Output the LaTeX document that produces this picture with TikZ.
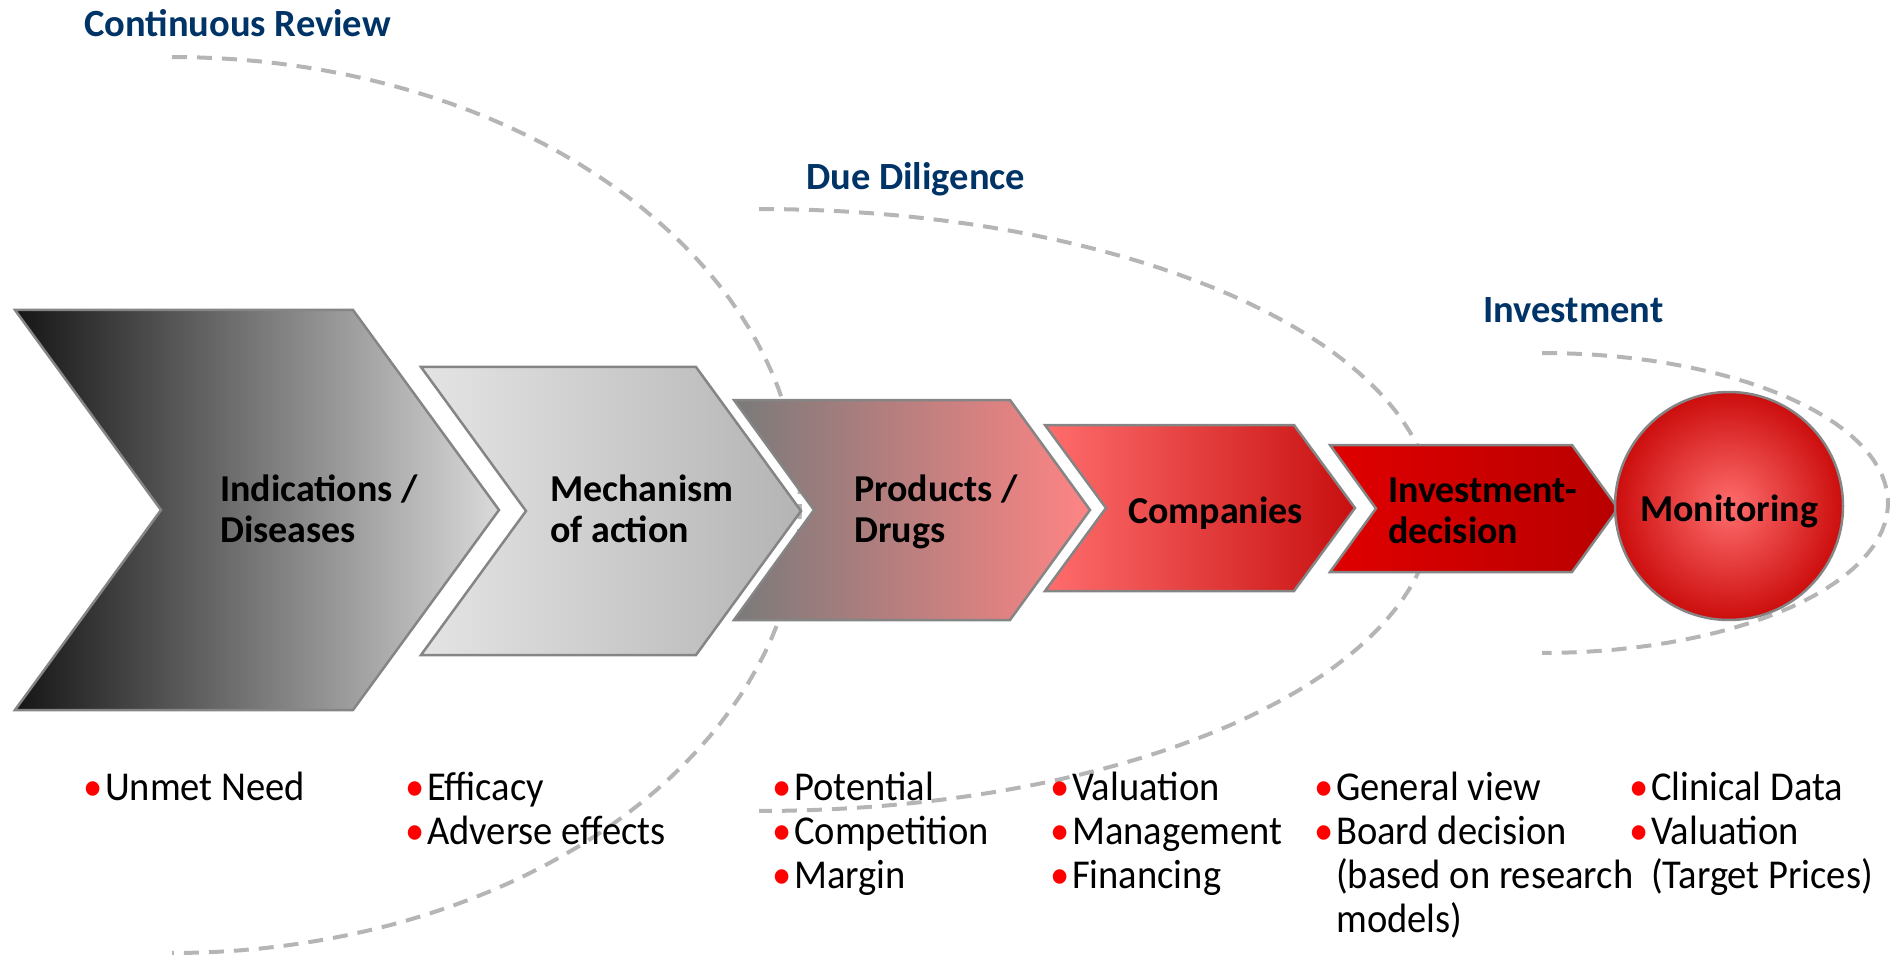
\documentclass[tikz,border=0pt]{standalone}
\usepackage{fontspec}
\setmainfont{Carlito}
\newfontfamily\itemfont{Carlito}[FakeStretch=0.94]

\definecolor{navy}{RGB}{0,51,102}
\definecolor{chevgray}{HTML}{858585}
\definecolor{ringgray}{HTML}{B5B5B5}
\definecolor{dotred}{HTML}{FF0000}
\definecolor{indleft}{HTML}{151515}
\definecolor{indright}{HTML}{DADADA}
\definecolor{mechleft}{HTML}{E4E4E4}
\definecolor{mechright}{HTML}{B4B4B4}
\definecolor{prodleft}{HTML}{7A7A7A}
\definecolor{prodright}{HTML}{FF8484}
\definecolor{compleft}{HTML}{FF6D6D}
\definecolor{compright}{HTML}{C80F0F}
\definecolor{invleft}{HTML}{E00000}
\definecolor{invright}{HTML}{B80000}
\definecolor{monin}{HTML}{FF6E6E}
\definecolor{monout}{HTML}{CC0D0D}

\newcommand\dotitem{\llap{\textcolor{dotred}{\textbullet}\hspace{3pt}}}

\begin{document}
\begin{tikzpicture}[x=1pt, y=-1pt,
    chev/.style={draw=chevgray, line width=2.5pt, line join=miter},
    dashring/.style={draw=ringgray, line width=4pt, dash pattern=on 15pt off 10pt},
    phase/.style={font=\fontsize{38.5}{44}\selectfont\bfseries, text=navy, anchor=base west, inner sep=0pt},
    lbl/.style={font=\fontsize{38}{41}\selectfont\bfseries, align=left, anchor=base west, inner sep=0pt},
    pts/.style={font=\itemfont\fontsize{41}{44}\selectfont, align=left, anchor=base west, inner sep=0pt}]
      \useasboundingbox (0,0) rectangle (1903,957);

      \draw[dashring] plot[domain=-90:90, samples=90] ({172+628*cos(\x)}, {505+448*sin(\x)});
      \draw[dashring] plot[domain=-90:90, samples=90] ({759+674*cos(\x)}, {510+301*sin(\x)});
      \draw[dashring] plot[domain=-90:90, samples=60] ({1542+346*cos(\x)}, {503+150*sin(\x)});

      \path[chev, left color=indleft, right color=indright]
        (15,310) -- (353,310) -- (499,510) -- (353,710) -- (15,710) -- (161,510) -- cycle;
      \path[chev, left color=mechleft, right color=mechright]
        (421,367) -- (696,367) -- (801,511) -- (696,655) -- (421,655) -- (526,511) -- cycle;
      \path[chev, left color=prodleft, right color=prodright]
        (734,400) -- (1010,400) -- (1090,510) -- (1010,620) -- (734,620) -- (814,510) -- cycle;
      \path[chev, left color=compleft, right color=compright]
        (1045,425) -- (1294,425) -- (1355,508) -- (1294,591) -- (1045,591) -- (1106,508) -- cycle;
      \path[chev, left color=invleft, right color=invright]
        (1330,445) -- (1572,445) -- (1618,508.5) -- (1572,572) -- (1330,572) -- (1376,508.5) -- cycle;

      \node[circle, chev, inner color=monin, outer color=monout, minimum size=228pt,
            font=\fontsize{38}{41}\selectfont\bfseries, text height=30pt, text depth=0pt] (monit) at (1729,506) {Monitoring};

      % multi-line nodes sit on the baseline of their last line
      \node[lbl] (indic) at (220,542) {Indications /\\Diseases};
      \node[lbl] (mech) at (550,542) {Mechanism\\of action};
      \node[lbl] (prod) at (854,542) {Products /\\Drugs};
      \node[lbl] (comp) at (1128,523) {Companies};
      \node[lbl] (invdec) at (1388,543) {Investment-\\decision};

      \node[phase] (revtitle) at (84,37) {Continuous Review};
      \node[phase] (ddtitle) at (806,190) {Due Diligence};
      \node[phase] (invtitle) at (1483,323) {Investment};

      \node[pts] (needs) at (105,800) {\dotitem Unmet Need};
      \node[pts] (effects) at (427,844) {\dotitem Efficacy\\\dotitem Adverse effects};
      \node[pts] (potential) at (794,888) {\dotitem Potential\\\dotitem Competition\\\dotitem Margin};
      \node[pts] (valuation) at (1072,888) {\dotitem Valuation\\\dotitem Management\\\dotitem Financing};
      \node[pts] (board) at (1336,932) {\dotitem General view\\\dotitem Board decision\\(based on research\\models)};
      \node[pts] (clinical) at (1651,888) {\dotitem Clinical Data\\\dotitem Valuation\\(Target Prices)};
    \end{tikzpicture}
\end{document}
